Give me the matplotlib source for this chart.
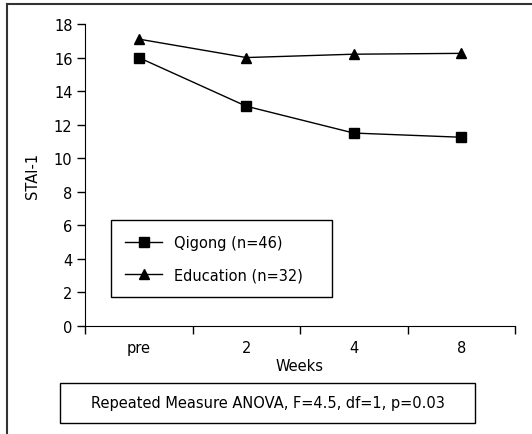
import numpy as np
import matplotlib
matplotlib.use('Agg')
import matplotlib.pyplot as plt
from matplotlib.lines import Line2D
from matplotlib.patches import Rectangle

# data
weeks = ['pre', '2', '4', '8']
qigong = [16.0, 13.1, 11.5, 11.25]
education = [17.1, 16.0, 16.2, 16.25]
y_ticks = [0, 2, 4, 6, 8, 10, 12, 14, 16, 18]
qigong_label = 'Qigong (n=46)'
education_label = 'Education (n=32)'
stats_text = 'Repeated Measure ANOVA, F=4.5, df=1, p=0.03'

plt.rcParams['font.family'] = ['DejaVu Sans']
font_size = 10.5

fig = plt.figure(figsize=(5.32, 4.35), dpi=100)
ax = fig.add_axes([85 / 532, 1 - 327 / 435, 430 / 532, 302 / 435])

x = np.arange(len(weeks))
ax.plot(x, qigong, color='black', lw=1, marker='s', ms=7, label=qigong_label)
ax.plot(x, education, color='black', lw=1, marker='^', ms=7.5, label=education_label)

ax.set_xlim(-0.5, len(weeks) - 0.5)
ax.set_ylim(0, 18)
ax.set_yticks(y_ticks)
ax.tick_params(axis='y', direction='out', length=6, width=1, labelsize=font_size, pad=3)

# category boundaries as major ticks, labels on minor ticks at centres
ax.set_xticks(np.arange(len(weeks) + 1) - 0.5)
ax.set_xticklabels([])
ax.set_xticks(x, minor=True)
ax.set_xticklabels(weeks, minor=True)
ax.tick_params(axis='x', which='major', direction='out', length=6, width=1)
ax.tick_params(axis='x', which='minor', length=0, labelsize=font_size, pad=10)

ax.spines['top'].set_visible(False)
ax.spines['right'].set_visible(False)
ax.set_xlabel('Weeks', fontsize=font_size, labelpad=2)
ax.set_ylabel('STAI-1', fontsize=font_size, labelpad=10)

leg = ax.legend(loc='lower left', bbox_to_anchor=(0.06, 0.096, 0.514, 0.252), mode='expand',
                borderaxespad=0, fontsize=font_size, handlelength=2.5, labelspacing=1.2,
                borderpad=1.0, handletextpad=0.8, fancybox=False, framealpha=1, edgecolor='black')
leg.get_frame().set_linewidth(1)

# box with the statistics below the chart
fig.add_artist(Rectangle((60 / 532, 1 - 424 / 435), 415 / 532, 40 / 435,
                         transform=fig.transFigure, fill=False, ec='black', lw=1))
fig.text(267.5 / 532, 1 - 404 / 435, stats_text, ha='center', va='center', fontsize=font_size)

# outer frame (top and left edges)
fig.add_artist(Line2D([7 / 532, 1], [1 - 5 / 435, 1 - 5 / 435], transform=fig.transFigure,
                      color='#333333', lw=1.5))
fig.add_artist(Line2D([7 / 532, 7 / 532], [0, 1 - 5 / 435], transform=fig.transFigure,
                      color='#333333', lw=1.5))

fig.savefig('out.png', dpi=100)
